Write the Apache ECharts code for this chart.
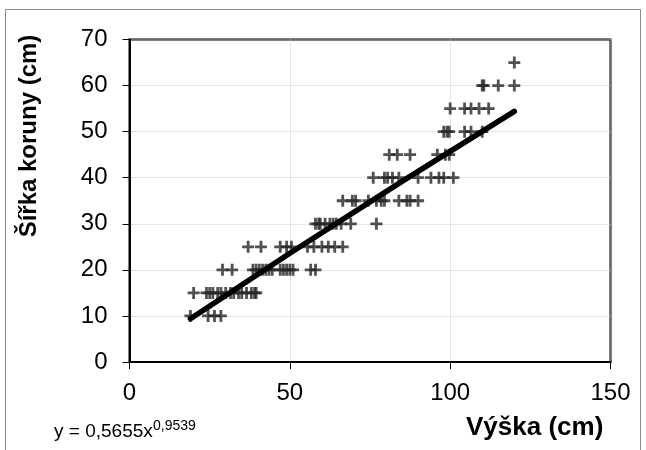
<!DOCTYPE html>
<html>
<head>
<meta charset="utf-8">
<script src="https://cdn.jsdelivr.net/npm/echarts@6/dist/echarts.min.js"></script>
<style>
  html, body { margin: 0; padding: 0; background: #fff; }
  #chart { width: 646px; height: 450px; }
</style>
</head>
<body>
<div id="chart"></div>
<script>
// Crown width levels (cm) and the heights (cm) of the trees observed at each level
const crownLevels = [10, 15, 20, 25, 30, 35, 40, 45, 50, 55, 60, 65];
const heightsAt10 = [19, 24.5, 26.5, 28.5];
const heightsAt15 = [20, 24, 25, 26, 27.5, 28.5, 30, 31.5, 32.5, 34, 35, 36.5, 38, 39, 39.5];
const heightsAt20 = [29, 32, 38.5, 39.5, 40.5, 41.5, 42.5, 43.5, 44.5, 47, 48, 49, 50, 51, 56.5, 58];
const heightsAt25 = [37, 41, 47, 49, 50.5, 55.5, 57.5, 60, 62, 64, 66.5];
const heightsAt30 = [58, 59, 59.5, 61, 62.5, 63.5, 64.5, 66, 69, 77];
const heightsAt35 = [66.5, 69.5, 70.5, 74.5, 77, 78.5, 79.5, 84, 86.5, 87.5, 90];
const heightsAt40 = [76, 79.5, 80.5, 82, 84, 90, 94, 96.5, 98, 101];
const heightsAt45 = [81, 83.5, 87.5, 96, 98.5, 99.7];
const heightsAt50 = [98, 99, 99.7, 104.5, 106.5, 110];
const heightsAt55 = [100, 104.5, 106.5, 109, 112];
const heightsAt60 = [110, 110.5, 115, 120];
const heightsAt65 = [120];

// Trend line (power fit)
const trendX = [19, 50, 85, 120];
const trendY = [9.4, 23.6, 39.2, 54.4];

// Axis ticks
const xTicks = [0, 50, 100, 150];
const yTicks = [0, 10, 20, 30, 40, 50, 60, 70];

const equationMain = 'y = 0,5655x';
const equationExp = '0,9539';
const xTitle = 'Výška (cm)';
const yTitle = 'Šířka koruny (cm)';

const groups = [heightsAt10, heightsAt15, heightsAt20, heightsAt25, heightsAt30, heightsAt35,
                heightsAt40, heightsAt45, heightsAt50, heightsAt55, heightsAt60, heightsAt65];
const points = [];
groups.forEach((hs, i) => hs.forEach(h => points.push([h, crownLevels[i]])));
const trend = trendX.map((x, i) => [x, trendY[i]]);

const FONT = '"Liberation Sans", Arial, sans-serif';
const chart = echarts.init(document.getElementById('chart'), null, { renderer: 'canvas' });

const option = {
  animation: false,
  backgroundColor: '#ffffff',
  grid: {
    left: 129.5, right: 35.5, top: 39.5, bottom: 88,
    show: true, borderColor: '#000', borderWidth: 2, backgroundColor: 'transparent'
  },
  xAxis: {
    type: 'value',
    min: xTicks[0], max: xTicks[xTicks.length - 1], interval: 50,
    axisLine: { show: true, onZero: false, lineStyle: { color: '#000', width: 2 } },
    axisTick: { show: true, inside: false, length: 7, lineStyle: { color: '#000', width: 1 } },
    axisLabel: { color: '#000', fontSize: 24, fontFamily: FONT, margin: 19 },
    splitLine: { show: true, lineStyle: { color: '#cfcfcf', type: 'dotted', width: 1 } }
  },
  yAxis: {
    type: 'value',
    min: yTicks[0], max: yTicks[yTicks.length - 1], interval: 10,
    axisLine: { show: true, onZero: false, lineStyle: { color: '#000', width: 2 } },
    axisTick: { show: true, inside: false, length: 7, lineStyle: { color: '#000', width: 1 } },
    axisLabel: { color: '#000', fontSize: 24, fontFamily: FONT, margin: 22 },
    splitLine: { show: true, lineStyle: { color: '#cfcfcf', type: 'dotted', width: 1 } }
  },
  series: [
    {
      type: 'scatter',
      data: points,
      symbol: 'path://M0,4.6H12V7.4H0Z M4.6,0H7.4V12H4.6Z',
      symbolSize: 12,
      itemStyle: { color: '#262626' },
      z: 2
    },
    {
      type: 'line',
      data: trend,
      showSymbol: false,
      symbol: 'none',
      smooth: false,
      lineStyle: { color: '#000', width: 5.5, cap: 'round' },
      z: 3
    }
  ],
  graphic: [
    {
      type: 'rect', silent: true, z: -1,
      shape: { x: 5.5, y: 9.5, width: 635, height: 460 },
      style: { fill: 'none', stroke: '#8c8c8c', lineWidth: 1 }
    },
    {
      type: 'text', left: 466, top: 415,
      style: { text: xTitle, font: 'bold 26px ' + FONT, fill: '#000' }
    },
    {
      type: 'text', x: 29, y: 136, rotation: Math.PI / 2,
      style: { text: yTitle, font: 'bold 24px ' + FONT, fill: '#000', align: 'center', verticalAlign: 'middle' }
    },
    {
      type: 'text', left: 54, top: 422,
      style: { text: equationMain, font: '19px ' + FONT, fill: '#000' }
    },
    {
      type: 'text', left: 153, top: 419,
      style: { text: equationExp, font: '14px ' + FONT, fill: '#000' }
    }
  ]
};
chart.setOption(option);
</script>
</body>
</html>
